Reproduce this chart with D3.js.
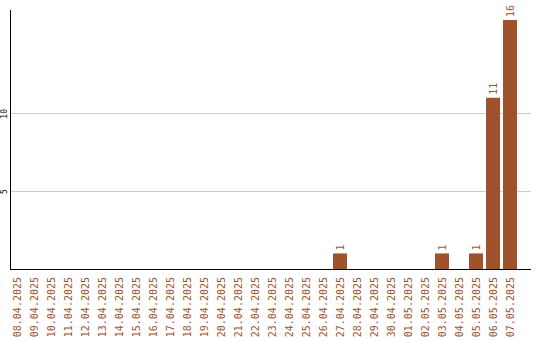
<!DOCTYPE html>
<html>
<head>
<meta charset="utf-8">
<script src="https://cdn.jsdelivr.net/npm/d3@7"></script>
<style>
  html, body { margin: 0; padding: 0; background: #fff; }
  svg { display: block; }
  text { font-family: "DejaVu Sans Mono", monospace; }
</style>
</head>
<body>
<svg id="chart" width="540" height="340"></svg>
<script>
// Daily counts, 08.04.2025 – 07.05.2025
const dates = [
  "08.04.2025", "09.04.2025", "10.04.2025", "11.04.2025", "12.04.2025",
  "13.04.2025", "14.04.2025", "15.04.2025", "16.04.2025", "17.04.2025",
  "18.04.2025", "19.04.2025", "20.04.2025", "21.04.2025", "22.04.2025",
  "23.04.2025", "24.04.2025", "25.04.2025", "26.04.2025", "27.04.2025",
  "28.04.2025", "29.04.2025", "30.04.2025", "01.05.2025", "02.05.2025",
  "03.05.2025", "04.05.2025", "05.05.2025", "06.05.2025", "07.05.2025"
];
const counts = [
  0, 0, 0, 0, 0,
  0, 0, 0, 0, 0,
  0, 0, 0, 0, 0,
  0, 0, 0, 0, 1,
  0, 0, 0, 0, 0,
  1, 0, 1, 11, 16
];
const yTicks = [5, 10];

const data = dates.map((d, i) => ({ date: d, value: counts[i] }));

const svg = d3.select("#chart");
const plotLeft = 10.5, plotRight = 531, plotTop = 10, plotBottom = 269;
const barColor = "#a0522d";

const x = d3.scaleBand()
  .domain(dates)
  .range([10, 517])
  .paddingInner(3 / 17)
  .paddingOuter(0)
  .align(0);

const y = d3.scaleLinear()
  .domain([0, d3.max(counts) * 1.04])
  .range([plotBottom, plotTop]);

// horizontal gridlines
svg.append("g")
  .selectAll("line")
  .data(yTicks)
  .join("line")
  .attr("x1", plotLeft)
  .attr("x2", plotRight)
  .attr("y1", d => Math.round(y(d)) + 0.5)
  .attr("y2", d => Math.round(y(d)) + 0.5)
  .attr("stroke", "#cccccc")
  .attr("stroke-width", 1);

// bars
svg.append("g")
  .selectAll("rect")
  .data(data.filter(d => d.value > 0))
  .join("rect")
  .attr("x", d => x(d.date))
  .attr("width", x.bandwidth())
  .attr("y", d => y(d.value))
  .attr("height", d => y(0) - y(d.value))
  .attr("fill", barColor);

// value labels above bars
svg.append("g")
  .selectAll("text")
  .data(data.filter(d => d.value > 0))
  .join("text")
  .attr("transform", d => `translate(${x(d.date) + x.bandwidth() / 2},${y(d.value) - 3}) rotate(-90)`)
  .attr("dy", "0.35em")
  .attr("text-anchor", "start")
  .attr("font-size", 10)
  .attr("fill", barColor)
  .text(d => d.value);

// y axis: rotated tick labels, no tick marks
const yAxis = d3.axisLeft(y).tickValues(yTicks).tickSize(0).tickPadding(0);
const gy = svg.append("g").attr("transform", `translate(${plotLeft},0)`).call(yAxis);
gy.select(".domain").remove();
gy.selectAll(".tick text")
  .attr("x", null)
  .attr("dy", null)
  .attr("transform", "translate(-6.5,0) rotate(-90)")
  .attr("text-anchor", "middle")
  .attr("dominant-baseline", "central")
  .attr("font-family", "DejaVu Sans Mono, monospace")
  .attr("font-size", 8)
  .attr("fill", "#000");

// x axis: rotated date labels
const xAxis = d3.axisBottom(x).tickSize(0).tickPadding(0);
const gx = svg.append("g").attr("transform", `translate(0,${plotBottom})`).call(xAxis);
gx.select(".domain").remove();
gx.selectAll(".tick text")
  .attr("y", null)
  .attr("dy", null)
  .attr("transform", "translate(0,8) rotate(-90)")
  .attr("text-anchor", "end")
  .attr("dominant-baseline", "central")
  .attr("font-family", "DejaVu Sans Mono, monospace")
  .attr("font-size", 10)
  .attr("fill", barColor);

// axis lines
svg.append("line")
  .attr("x1", plotLeft).attr("x2", plotLeft)
  .attr("y1", plotTop).attr("y2", plotBottom + 1)
  .attr("stroke", "#000").attr("stroke-width", 1);
svg.append("line")
  .attr("x1", plotLeft).attr("x2", plotRight)
  .attr("y1", plotBottom + 0.5).attr("y2", plotBottom + 0.5)
  .attr("stroke", "#000").attr("stroke-width", 1);
</script>
</body>
</html>
